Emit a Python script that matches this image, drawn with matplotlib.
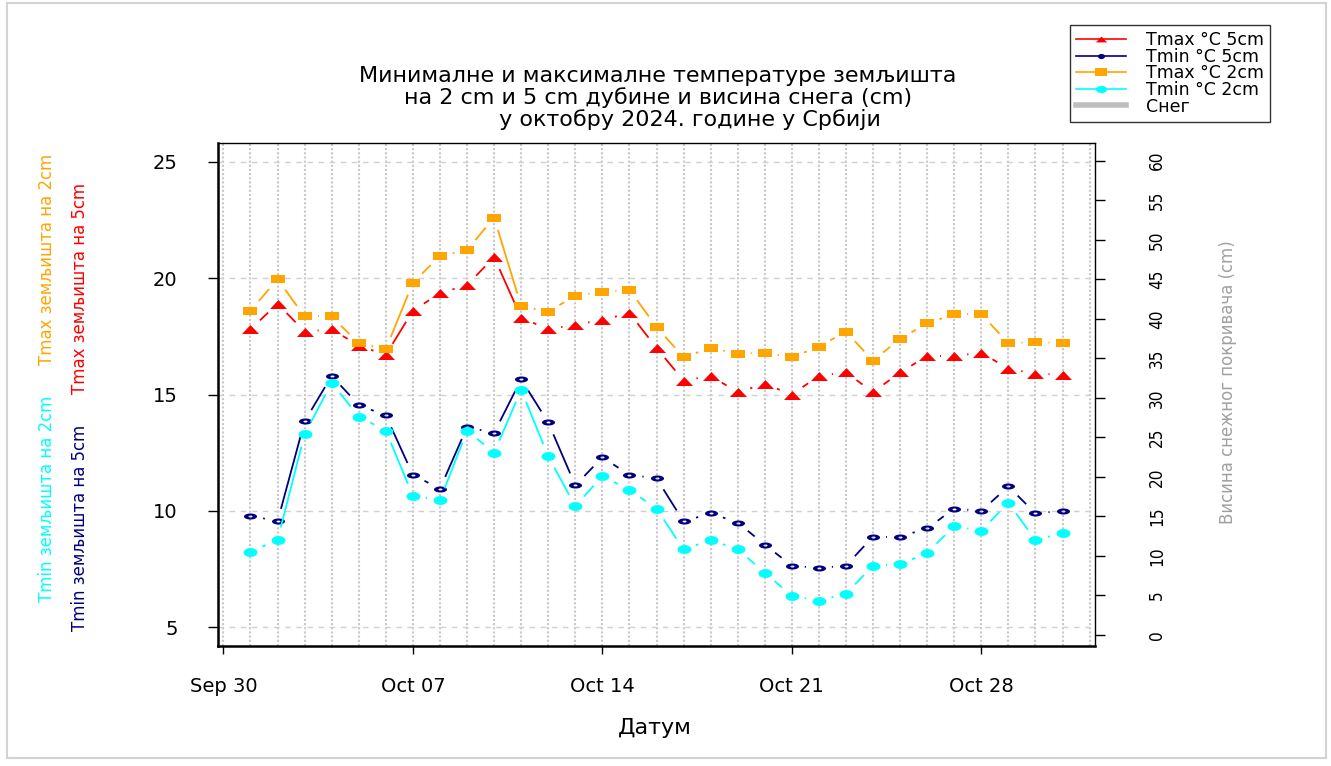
import datetime as dt
import numpy as np
import matplotlib
matplotlib.use("Agg")
import matplotlib.pyplot as plt
import matplotlib.dates as mdates
from matplotlib import font_manager as fm
from matplotlib.path import Path
from matplotlib.lines import Line2D
from matplotlib.patches import Rectangle
from matplotlib.collections import LineCollection

# ---------------- data ----------------
days = [dt.date(2024, 10, d) for d in range(1, 32)]
tmax_5cm = [17.8, 18.9, 17.7, 17.8, 17.1, 16.7, 18.6, 19.35, 19.7, 20.9, 18.3, 17.8, 18.0, 18.2, 18.5,
            17.0, 15.6, 15.8, 15.1, 15.45, 15.0, 15.8, 15.95, 15.1, 15.95, 16.65, 16.65, 16.8, 16.1, 15.9, 15.85]
tmin_5cm = [9.8, 9.55, 13.85, 15.8, 14.55, 14.1, 11.55, 10.95, 13.6, 13.35, 15.65, 13.8, 11.1, 12.3, 11.55,
            11.4, 9.55, 9.9, 9.5, 8.55, 7.65, 7.55, 7.65, 8.9, 8.9, 9.25, 10.1, 10.0, 11.05, 9.9, 10.0]
tmax_2cm = [18.6, 19.95, 18.35, 18.35, 17.2, 16.95, 19.8, 20.95, 21.2, 22.6, 18.8, 18.55, 19.25, 19.4, 19.5,
            17.9, 16.6, 17.0, 16.75, 16.8, 16.6, 17.05, 17.7, 16.45, 17.4, 18.05, 18.45, 18.45, 17.2, 17.25, 17.2]
tmin_2cm = [8.25, 8.75, 13.3, 15.5, 14.05, 13.45, 10.65, 10.45, 13.45, 12.5, 15.2, 12.35, 10.2, 11.5, 10.9,
            10.1, 8.35, 8.75, 8.35, 7.35, 6.35, 6.15, 6.45, 7.65, 7.7, 8.2, 9.35, 9.15, 10.35, 8.75, 9.05]
snow_cm = [np.nan] * 31  # no snow cover in October

series_labels = ["Tmax °C 5cm", "Tmin °C 5cm", "Tmax °C 2cm", "Tmin °C 2cm", "Снег"]
date_ticks = [dt.date(2024, 9, 30), dt.date(2024, 10, 7), dt.date(2024, 10, 14),
              dt.date(2024, 10, 21), dt.date(2024, 10, 28)]
date_tick_labels = ["Sep 30", "Oct 07", "Oct 14", "Oct 21", "Oct 28"]
temp_ticks = [5, 10, 15, 20, 25]
snow_ticks = list(range(0, 61, 5))
title_text = ("Минималне и максималне температуре земљишта\n"
              "на 2 cm и 5 cm дубине и висина снега (cm)\n"
              "         у октобру 2024. године у Србији")

# ---------------- styles ----------------
W, H = 1331, 766
plt.rcParams["font.family"] = ["DejaVu Sans"]

# pick a condensed face if one is installed, otherwise shrink regular DejaVu
NARROW_PROPS = dict(family=["DejaVu Sans"])
NARROW_SCALE = 0.78
for fam, stretch in [("Liberation Sans Narrow", "normal"), ("Liberation Sans", "condensed"),
                     ("DejaVu Sans", "condensed")]:
    try:
        path = fm.findfont(fm.FontProperties(family=fam, stretch=stretch), fallback_to_default=False)
    except Exception:
        continue
    if "narrow" in path.lower() or "condensed" in path.lower():
        NARROW_PROPS = dict(family=[fam, "DejaVu Sans"], fontstretch=stretch)
        NARROW_SCALE = 1.0 if "narrow" in path.lower() else 0.88
        break

C_RED, C_NAVY, C_ORANGE, C_CYAN, C_GRAY = "#FF0000", "#000080", "#FFA500", "#00FFFF", "#BEBEBE"


def ellipse_path(w, h, n=40, hole=None):
    t = np.linspace(0, 2 * np.pi, n)
    verts = list(np.column_stack([w / 2 * np.cos(t), h / 2 * np.sin(t)]))
    codes = [Path.MOVETO] + [Path.LINETO] * (n - 2) + [Path.CLOSEPOLY]
    if hole is not None:
        hw, hh = hole
        inner = np.column_stack([hw / 2 * np.cos(-t), hh / 2 * np.sin(-t)])
        verts += list(inner)
        codes += [Path.MOVETO] + [Path.LINETO] * (n - 2) + [Path.CLOSEPOLY]
    return Path(np.array(verts), codes)


def rect_path(w, h):
    v = [(-w / 2, -h / 2), (w / 2, -h / 2), (w / 2, h / 2), (-w / 2, h / 2), (-w / 2, -h / 2)]
    return Path(v, [Path.MOVETO, Path.LINETO, Path.LINETO, Path.LINETO, Path.CLOSEPOLY])


def tri_path(w, h):
    v = [(-w / 2, -h / 2), (w / 2, -h / 2), (0, h / 2), (-w / 2, -h / 2)]
    return Path(v, [Path.MOVETO, Path.LINETO, Path.LINETO, Path.CLOSEPOLY])


M_TRI = tri_path(17, 9)
M_SQ = rect_path(14, 9)
M_CYAN = ellipse_path(14, 9)
M_NAVY = ellipse_path(13, 6, hole=(4, 2))

fig = plt.figure(figsize=(W / 100, H / 100), dpi=100)
fig.patch.set_facecolor("white")
ax = fig.add_axes([218 / W, 1 - 646 / H, (1095 - 218) / W, (646 - 143) / H])

xnum = mdates.date2num(days)
ax.set_xlim(xnum[0] - 1.2, xnum[-1] + 1.2)
ax.set_ylim(4.2, 25.8)

# grid
for d in range(int(np.ceil(ax.get_xlim()[0])), int(np.floor(ax.get_xlim()[1])) + 1):
    ax.axvline(d, color="#C8C8C8", lw=1.5, ls=(0, (1, 1)), zorder=0)
for v in temp_ticks:
    ax.axhline(v, color="#D0D0D0", lw=1.0, ls=(0, (4, 4)), zorder=0)


def type_b(ax, x, y, color, marker, msize, gap_px=13, lw=1.3, z=2):
    pts = ax.transData.transform(np.column_stack([x, y]))
    inv = ax.transData.inverted()
    segs = []
    for p1, p2 in zip(pts[:-1], pts[1:]):
        d = p2 - p1
        L = np.hypot(*d)
        if L > 2 * gap_px:
            u = d / L
            segs.append([inv.transform(p1 + u * gap_px), inv.transform(p2 - u * gap_px)])
    ax.add_collection(LineCollection(segs, colors=color, linewidths=lw, zorder=z))
    ax.plot(x, y, ls="none", marker=marker, markersize=msize, color=color,
            markeredgewidth=0, zorder=z + 0.5)


type_b(ax, xnum, tmax_5cm, C_RED, M_TRI, 12.2, z=2)
type_b(ax, xnum, tmin_5cm, C_NAVY, M_NAVY, 9.4, z=3)
type_b(ax, xnum, tmax_2cm, C_ORANGE, M_SQ, 10.0, z=4)
type_b(ax, xnum, tmin_2cm, C_CYAN, M_CYAN, 10.0, z=5)

# axes styling
ax.set_xticks(mdates.date2num(date_ticks))
ax.set_xticklabels(date_tick_labels, fontsize=14)
ax.set_yticks(temp_ticks)
ax.set_yticklabels([str(v) for v in temp_ticks], fontsize=14)
ax.tick_params(axis="x", length=6, width=1, pad=16, direction="out")
ax.tick_params(axis="y", length=7, width=1, pad=22, direction="out")
ax.spines["left"].set_linewidth(1.8)
ax.spines["bottom"].set_linewidth(1.8)
ax.spines["top"].set_linewidth(1.0)
ax.spines["right"].set_linewidth(1.0)

# snow axis
ax2 = ax.twinx()
ax2.set_ylim(-1.39, 62.24)
ax2.plot(xnum, snow_cm, color=C_GRAY, lw=3)
ax2.set_yticks(snow_ticks)
ax2.set_yticklabels([str(v) for v in snow_ticks], fontsize=14 * NARROW_SCALE, rotation=90,
                    va="center", ha="left", **NARROW_PROPS)
ax2.tick_params(axis="y", length=7, width=1, pad=31)
for sp in ax2.spines.values():
    sp.set_visible(False)

# texts
side_fs = 15 * NARROW_SCALE
fig.text(1228 / W, 1 - 382 / H, "Висина снежног покривача (cm)", rotation=90, color="#A0A0A0",
         fontsize=side_fs, ha="center", va="center", **NARROW_PROPS)
fig.text(47 / W, 1 - 259 / H, "Tmax земљишта на 2cm", rotation=90, color=C_ORANGE,
         fontsize=side_fs, ha="center", va="center", **NARROW_PROPS)
fig.text(80 / W, 1 - 288 / H, "Tmax земљишта на 5cm", rotation=90, color=C_RED,
         fontsize=side_fs, ha="center", va="center", **NARROW_PROPS)
fig.text(47 / W, 1 - 499 / H, "Tmin земљишта на 2cm", rotation=90, color=C_CYAN,
         fontsize=side_fs, ha="center", va="center", **NARROW_PROPS)
fig.text(80 / W, 1 - 528 / H, "Tmin земљишта на 5cm", rotation=90, color=C_NAVY,
         fontsize=side_fs, ha="center", va="center", **NARROW_PROPS)
fig.text(655 / W, 1 - 728 / H, "Датум", fontsize=16, ha="center", va="center")

fig.text(658 / W, 1 - 98 / H, title_text, fontsize=16, ha="center", va="center",
         multialignment="center", linespacing=1.04)

# legend
handles = [
    Line2D([], [], color=C_RED, lw=1.2, marker=M_TRI, markersize=8, markeredgewidth=0),
    Line2D([], [], color=C_NAVY, lw=1.2, marker=ellipse_path(8, 6), markersize=5, markeredgewidth=0),
    Line2D([], [], color=C_ORANGE, lw=1.2, marker=M_SQ, markersize=8, markeredgewidth=0),
    Line2D([], [], color=C_CYAN, lw=1.2, marker=M_CYAN, markersize=8, markeredgewidth=0),
    Line2D([], [], color=C_GRAY, lw=4),
]
leg = fig.legend(handles, series_labels, loc="upper left",
                 bbox_to_anchor=(1070 / W, 1 - 25 / H), bbox_transform=fig.transFigure,
                 fontsize=12.5, frameon=True, fancybox=False, shadow=False, borderaxespad=0,
                 handlelength=2.9, handletextpad=1.1, labelspacing=-0.08, borderpad=0.35)
leg.get_frame().set_edgecolor("black")
leg.get_frame().set_linewidth(1.0)

# outer frame
fig.patches.append(Rectangle((7 / W, 1 - 758 / H), (1326 - 7) / W, (758 - 3) / H,
                             transform=fig.transFigure, fill=False, edgecolor="#D3D3D3", lw=1.5))

fig.savefig("out.png", dpi=100)
